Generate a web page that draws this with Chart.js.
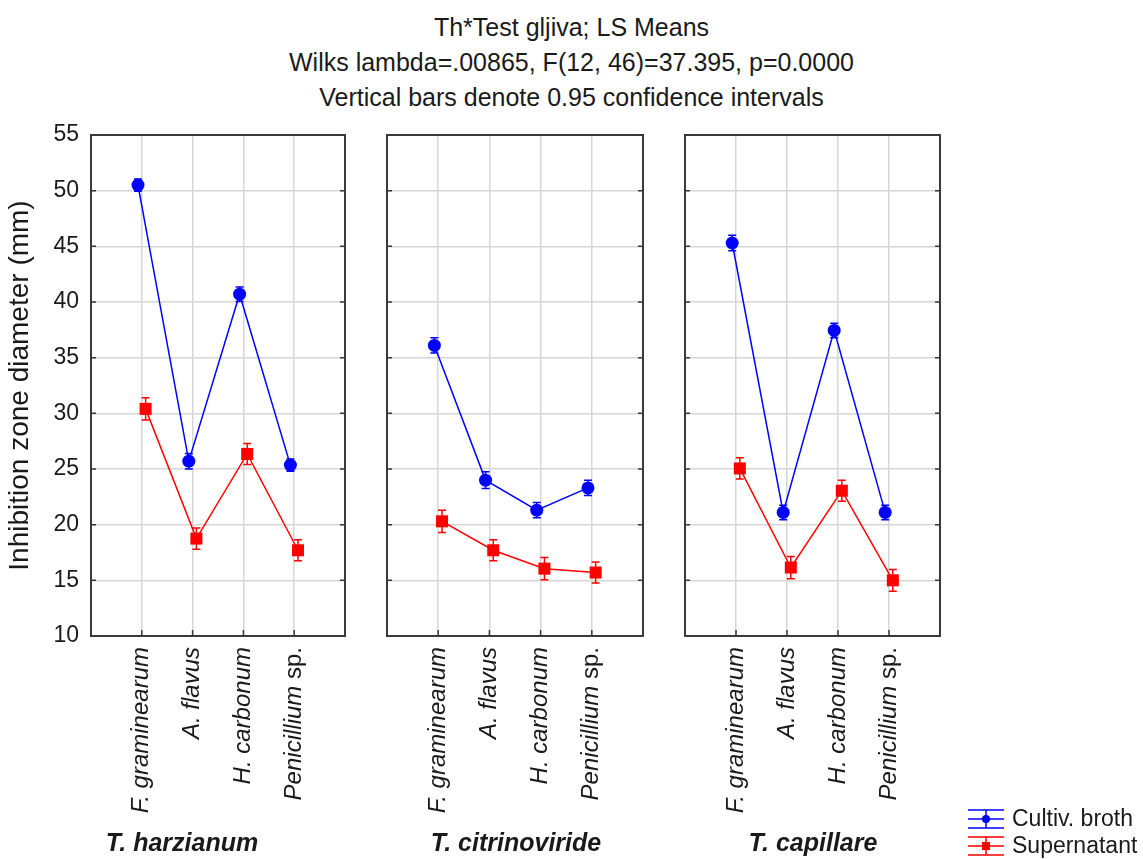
<!DOCTYPE html>
<html>
<head>
<meta charset="utf-8">
<title>Th*Test gljiva; LS Means</title>
<script src="https://cdn.jsdelivr.net/npm/chart.js@4.4.0/dist/chart.umd.min.js"></script>
<style>
  html, body { margin: 0; padding: 0; background: #fff; }
  #page { position: relative; width: 1143px; height: 859px; overflow: hidden;
          font-family: "Liberation Sans", Arial, sans-serif; color: #1a1a1a; }
  #title { position: absolute; left: 0; top: 10px; width: 1143px; text-align: center;
           font-size: 25px; line-height: 35px; }
  .panel { position: absolute; top: 0; }
  .strain { position: absolute; top: 828px; font-size: 25px; font-weight: bold; font-style: italic;
            white-space: nowrap; transform: translateX(-50%); }
  #legend { position: absolute; left: 966px; top: 805px; }
  .legend-row { display: flex; align-items: center; height: 27px; font-size: 23px; white-space: nowrap; }
  .legend-row canvas { margin-right: 6px; }
</style>
</head>
<body>
<div id="page">
  <div id="title">Th*Test gljiva; LS Means<br>Wilks lambda=.00865, F(12, 46)=37.395, p=0.0000<br>Vertical bars denote 0.95 confidence intervals</div>
  <canvas id="panel0" class="panel"></canvas>
  <canvas id="panel1" class="panel"></canvas>
  <canvas id="panel2" class="panel"></canvas>
  <div id="strainNames"></div>
  <div id="legend"></div>
</div>
<script>
// --- data ---
const fungi = ["F. graminearum", "A. flavus", "H. carbonum", "Penicillium sp."];
const strains = ["T. harzianum", "T. citrinoviride", "T. capillare"];
const seriesNames = ["Cultiv. broth", "Supernatant"];
const yTicks = [10, 15, 20, 25, 30, 35, 40, 45, 50, 55];

// LS means (mm)
const brothHarzianum = [50.5, 25.7, 40.7, 25.35];
const superHarzianum = [30.4, 18.75, 26.35, 17.7];
const brothCitrinoviride = [36.1, 24.0, 21.3, 23.3];
const superCitrinoviride = [20.3, 17.7, 16.05, 15.7];
const brothCapillare = [45.3, 21.1, 37.45, 21.1];
const superCapillare = [25.05, 16.15, 23.05, 15.0];

// half width of the 0.95 confidence interval (mm)
const brothCiHarzianum = [0.55, 0.7, 0.65, 0.55];
const superCiHarzianum = [1.0, 0.95, 0.95, 0.95];
const brothCiCitrinoviride = [0.68, 0.75, 0.68, 0.68];
const superCiCitrinoviride = [1.0, 0.95, 1.0, 0.95];
const brothCiCapillare = [0.7, 0.65, 0.65, 0.65];
const superCiCapillare = [0.95, 1.0, 0.95, 0.97];

const BLUE = "rgb(0, 0, 255)";
const RED = "rgb(255, 0, 0)";
const GRID = "#d6d6d6";
const FRAME = "#3a3a3a";
const TEXT = "#1a1a1a";
const FONT = '"Liberation Sans", Arial, sans-serif';

const panels = [
  { broth: brothHarzianum, brothCi: brothCiHarzianum, sup: superHarzianum, supCi: superCiHarzianum },
  { broth: brothCitrinoviride, brothCi: brothCiCitrinoviride, sup: superCitrinoviride, supCi: superCiCitrinoviride },
  { broth: brothCapillare, brothCi: brothCiCapillare, sup: superCapillare, supCi: superCiCapillare }
];

// canvas placement on the page
const boxes = [
  { left: 0, width: 360, axisW: 91, nameX: 182 },
  { left: 372, width: 286, axisW: 15, nameX: 516 },
  { left: 670, width: 285, axisW: 15, nameX: 813 }
];

// broth points a bit left of the category, supernatant a bit right
function toPoints(values, shift) {
  return values.map((v, i) => ({ x: i + 1 + shift, y: v }));
}

const framePlugin = {
  id: "frame",
  beforeDatasetsDraw(chart) {
    const { ctx, chartArea: a, scales } = chart;
    ctx.save();
    ctx.strokeStyle = FRAME;
    ctx.lineWidth = 2;
    ctx.strokeRect(a.left, a.top, a.right - a.left, a.bottom - a.top);
    ctx.lineWidth = 1.5;
    ctx.beginPath();
    scales.y.ticks.forEach(t => {
      const y = scales.y.getPixelForValue(t.value);
      ctx.moveTo(a.left, y); ctx.lineTo(a.left + 5, y);
      ctx.moveTo(a.right, y); ctx.lineTo(a.right - 5, y);
    });
    scales.x.ticks.forEach(t => {
      const x = scales.x.getPixelForValue(t.value);
      ctx.moveTo(x, a.bottom); ctx.lineTo(x, a.bottom - 6);
    });
    ctx.stroke();
    ctx.restore();
  }
};

const errorBarPlugin = {
  id: "errorBars",
  afterDatasetsDraw(chart) {
    const { ctx, scales: { x, y } } = chart;
    ctx.save();
    chart.data.datasets.forEach(ds => {
      ctx.strokeStyle = ds.borderColor;
      ctx.lineWidth = 1.5;
      ds.data.forEach((pt, i) => {
        const e = ds.errors[i];
        const px = x.getPixelForValue(pt.x);
        const top = y.getPixelForValue(pt.y + e);
        const bot = y.getPixelForValue(pt.y - e);
        ctx.beginPath();
        ctx.moveTo(px, top); ctx.lineTo(px, bot);
        ctx.moveTo(px - 4, top); ctx.lineTo(px + 4, top);
        ctx.moveTo(px - 4, bot); ctx.lineTo(px + 4, bot);
        ctx.stroke();
      });
    });
    ctx.restore();
  }
};

// rotated category names: genus in italics, "sp." upright
const fungusLabelPlugin = {
  id: "fungusLabels",
  afterDraw(chart) {
    const { ctx, chartArea: a, scales: { x } } = chart;
    x.ticks.forEach((t, i) => {
      const m = fungi[i].match(/^(.*?)( sp\.)?$/);
      const italic = m[1], plain = m[2] || "";
      ctx.save();
      ctx.translate(x.getPixelForValue(t.value), a.bottom + 11);
      ctx.rotate(-Math.PI / 2);
      ctx.textAlign = "right";
      ctx.textBaseline = "middle";
      ctx.fillStyle = TEXT;
      ctx.font = "24px " + FONT;
      ctx.fillText(plain, 0, 0);
      const w = plain ? ctx.measureText(plain).width : 0;
      ctx.font = "italic 24px " + FONT;
      ctx.fillText(italic, -w, 0);
      ctx.restore();
    });
  }
};

panels.forEach((p, idx) => {
  const box = boxes[idx];
  const canvas = document.getElementById("panel" + idx);
  canvas.width = box.width;
  canvas.height = 859;
  canvas.style.left = box.left + "px";
  canvas.style.width = box.width + "px";
  canvas.style.height = "859px";

  new Chart(canvas, {
    type: "line",
    data: {
      datasets: [
        {
          label: seriesNames[0],
          data: toPoints(p.broth, -0.075),
          errors: p.brothCi,
          borderColor: BLUE,
          backgroundColor: BLUE,
          borderWidth: 1.5,
          pointStyle: "circle",
          pointRadius: 6.5,
          pointBorderWidth: 0
        },
        {
          label: seriesNames[1],
          data: toPoints(p.sup, 0.075),
          errors: p.supCi,
          borderColor: RED,
          backgroundColor: RED,
          borderWidth: 1.5,
          pointStyle: "rect",
          pointRadius: 8.5,
          pointBorderWidth: 0
        }
      ]
    },
    options: {
      responsive: false,
      animation: false,
      layout: { padding: { top: 135, right: 15, left: 0, bottom: 0 } },
      plugins: {
        legend: { display: false },
        tooltip: { enabled: false },
        title: { display: false }
      },
      scales: {
        x: {
          type: "linear",
          min: 0,
          max: fungi.length + 1,
          afterBuildTicks: s => { s.ticks = fungi.map((f, i) => ({ value: i + 1 })); },
          ticks: { display: false },
          grid: { color: GRID, lineWidth: 1.5, drawTicks: false },
          border: { display: false },
          afterFit: s => { s.height = 223; }
        },
        y: {
          min: yTicks[0],
          max: yTicks[yTicks.length - 1],
          ticks: {
            display: idx === 0,
            stepSize: yTicks[1] - yTicks[0],
            color: TEXT,
            font: { family: FONT, size: 23 },
            padding: 12
          },
          grid: { color: GRID, lineWidth: 1.5, drawTicks: false },
          border: { display: false },
          title: {
            display: idx === 0,
            text: "Inhibition zone diameter (mm)",
            color: TEXT,
            font: { family: FONT, size: 28 },
            padding: { top: 3, bottom: 0 }
          },
          afterFit: s => { s.width = box.axisW; }
        }
      }
    },
    plugins: [framePlugin, errorBarPlugin, fungusLabelPlugin]
  });

  const name = document.createElement("div");
  name.className = "strain";
  name.style.left = box.nameX + "px";
  name.textContent = strains[idx];
  document.getElementById("strainNames").appendChild(name);
});

// legend: error-bar glyph + series name
const legend = document.getElementById("legend");
[BLUE, RED].forEach((color, i) => {
  const row = document.createElement("div");
  row.className = "legend-row";
  const g = document.createElement("canvas");
  g.width = 40; g.height = 24;
  const c = g.getContext("2d");
  c.strokeStyle = color; c.fillStyle = color; c.lineWidth = 1.5;
  c.beginPath();
  c.moveTo(2, 3); c.lineTo(38, 3);
  c.moveTo(2, 12); c.lineTo(38, 12);
  c.moveTo(2, 21); c.lineTo(38, 21);
  c.moveTo(20, 3); c.lineTo(20, 21);
  c.stroke();
  c.beginPath();
  if (i === 0) { c.arc(20, 12, 4, 0, Math.PI * 2); } else { c.rect(16, 8, 8, 8); }
  c.fill();
  row.appendChild(g);
  const label = document.createElement("span");
  label.textContent = seriesNames[i];
  row.appendChild(label);
  legend.appendChild(row);
});
</script>
</body>
</html>
